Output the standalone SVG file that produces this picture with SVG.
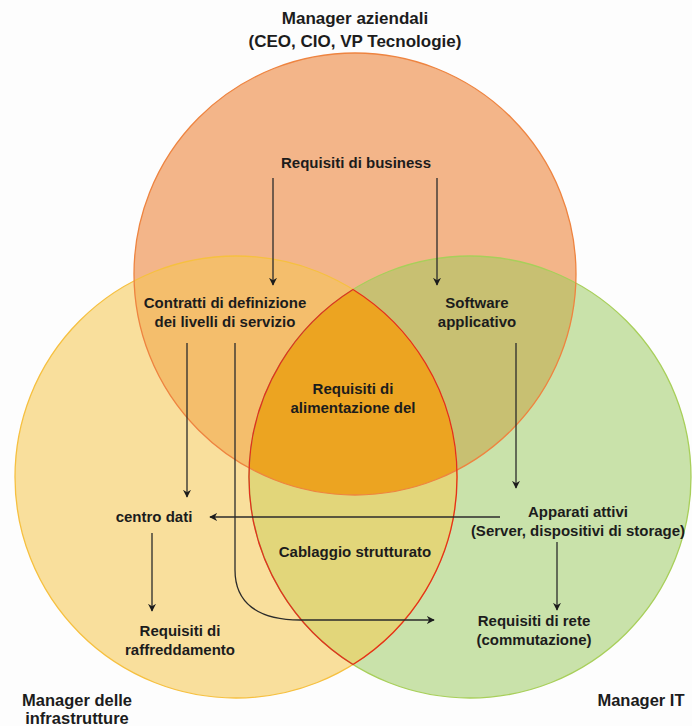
<svg xmlns="http://www.w3.org/2000/svg" width="692" height="726" viewBox="0 0 692 726">
<style>
text{font-family:"Liberation Sans",Arial,sans-serif;font-weight:bold;fill:#1c1c1c;text-anchor:middle}
.b{font-size:15px}
.h{font-size:17px}
.c{font-size:16.5px}
.ln{fill:none;stroke:#2b2b2b;stroke-width:1.3}
</style>
<defs>
<clipPath id="cT"><circle cx="355" cy="274" r="221"/></clipPath>
<clipPath id="cL"><circle cx="236" cy="477" r="221"/></clipPath>
<marker id="ah" viewBox="0 0 10 10" refX="9" refY="5" markerWidth="8" markerHeight="8" markerUnits="userSpaceOnUse" orient="auto">
<path d="M0,0 L10,5 L0,10 L3,5 z" fill="#1c1c1c"/>
</marker>
</defs>
<rect width="692" height="726" fill="#fdfdfd"/>
<g id="circles">
<circle cx="236" cy="477" r="221" fill="#f9df9c"/>
<circle cx="470" cy="477" r="221" fill="#c9e2aa"/>
<circle cx="355" cy="274" r="221" fill="#f3b589"/>
<circle cx="236" cy="477" r="221" fill="#f4be6c" clip-path="url(#cT)"/>
<circle cx="470" cy="477" r="221" fill="#c8c072" clip-path="url(#cT)"/>
<circle cx="470" cy="477" r="221" fill="#e2d67a" clip-path="url(#cL)"/>
<g clip-path="url(#cT)"><circle cx="470" cy="477" r="221" fill="#eca421" clip-path="url(#cL)"/></g>
<circle cx="236" cy="477" r="221" fill="none" stroke="#f6c040" stroke-width="1.3"/>
<circle cx="470" cy="477" r="221" fill="none" stroke="#a8cf5a" stroke-width="1.3"/>
<circle cx="355" cy="274" r="221" fill="none" stroke="#ee8440" stroke-width="1.3"/>
<path d="M353,289.5 A221,221 0 0 1 353,664.5 A221,221 0 0 1 353,289.5 Z" fill="none" stroke="#e2301e" stroke-width="1.3"/>
</g>
<g id="connectors">
<line class="ln" x1="273" y1="178" x2="273" y2="285" marker-end="url(#ah)"/>
<line class="ln" x1="437" y1="178" x2="437" y2="285" marker-end="url(#ah)"/>
<line class="ln" x1="187" y1="343" x2="187" y2="497" marker-end="url(#ah)"/>
<path class="ln" d="M235,343 V570 C235,603 258,620 300,620 H434" marker-end="url(#ah)"/>
<line class="ln" x1="516" y1="343" x2="516" y2="488" marker-end="url(#ah)"/>
<line class="ln" x1="500" y1="517" x2="210" y2="517" marker-end="url(#ah)"/>
<line class="ln" x1="557" y1="542" x2="557" y2="610" marker-end="url(#ah)"/>
<line class="ln" x1="152" y1="533" x2="152" y2="611" marker-end="url(#ah)"/>
</g>
<g id="title"><text class="h" x="355" y="24">Manager aziendali</text><text class="h" x="355" y="47">(CEO, CIO, VP Tecnologie)</text></g>
<g id="business"><text class="b" x="356" y="168">Requisiti di business</text></g>
<g id="contratti"><text class="b" x="225" y="308">Contratti di definizione</text><text class="b" x="225" y="327">dei livelli di servizio</text></g>
<g id="software"><text class="b" x="477" y="308">Software</text><text class="b" x="477" y="327">applicativo</text></g>
<g id="alimentazione"><text class="b" x="353" y="394">Requisiti di</text><text class="b" x="353" y="413">alimentazione del</text></g>
<g id="centro"><text class="b" x="154" y="522">centro dati</text></g>
<g id="raffreddamento"><text class="b" x="180" y="636">Requisiti di</text><text class="b" x="180" y="655">raffreddamento</text></g>
<g id="cablaggio"><text class="b" x="355" y="557">Cablaggio strutturato</text></g>
<g id="apparati"><text class="b" x="578" y="517">Apparati attivi</text><text class="b" x="578" y="536">(Server, dispositivi di storage)</text></g>
<g id="rete"><text class="b" x="534" y="626">Requisiti di rete</text><text class="b" x="534" y="645">(commutazione)</text></g>
<g id="infra"><text class="c" x="77" y="706">Manager delle</text><text class="c" x="77" y="724">infrastrutture</text></g>
<g id="it"><text class="c" x="641" y="706">Manager IT</text></g>
</svg>
